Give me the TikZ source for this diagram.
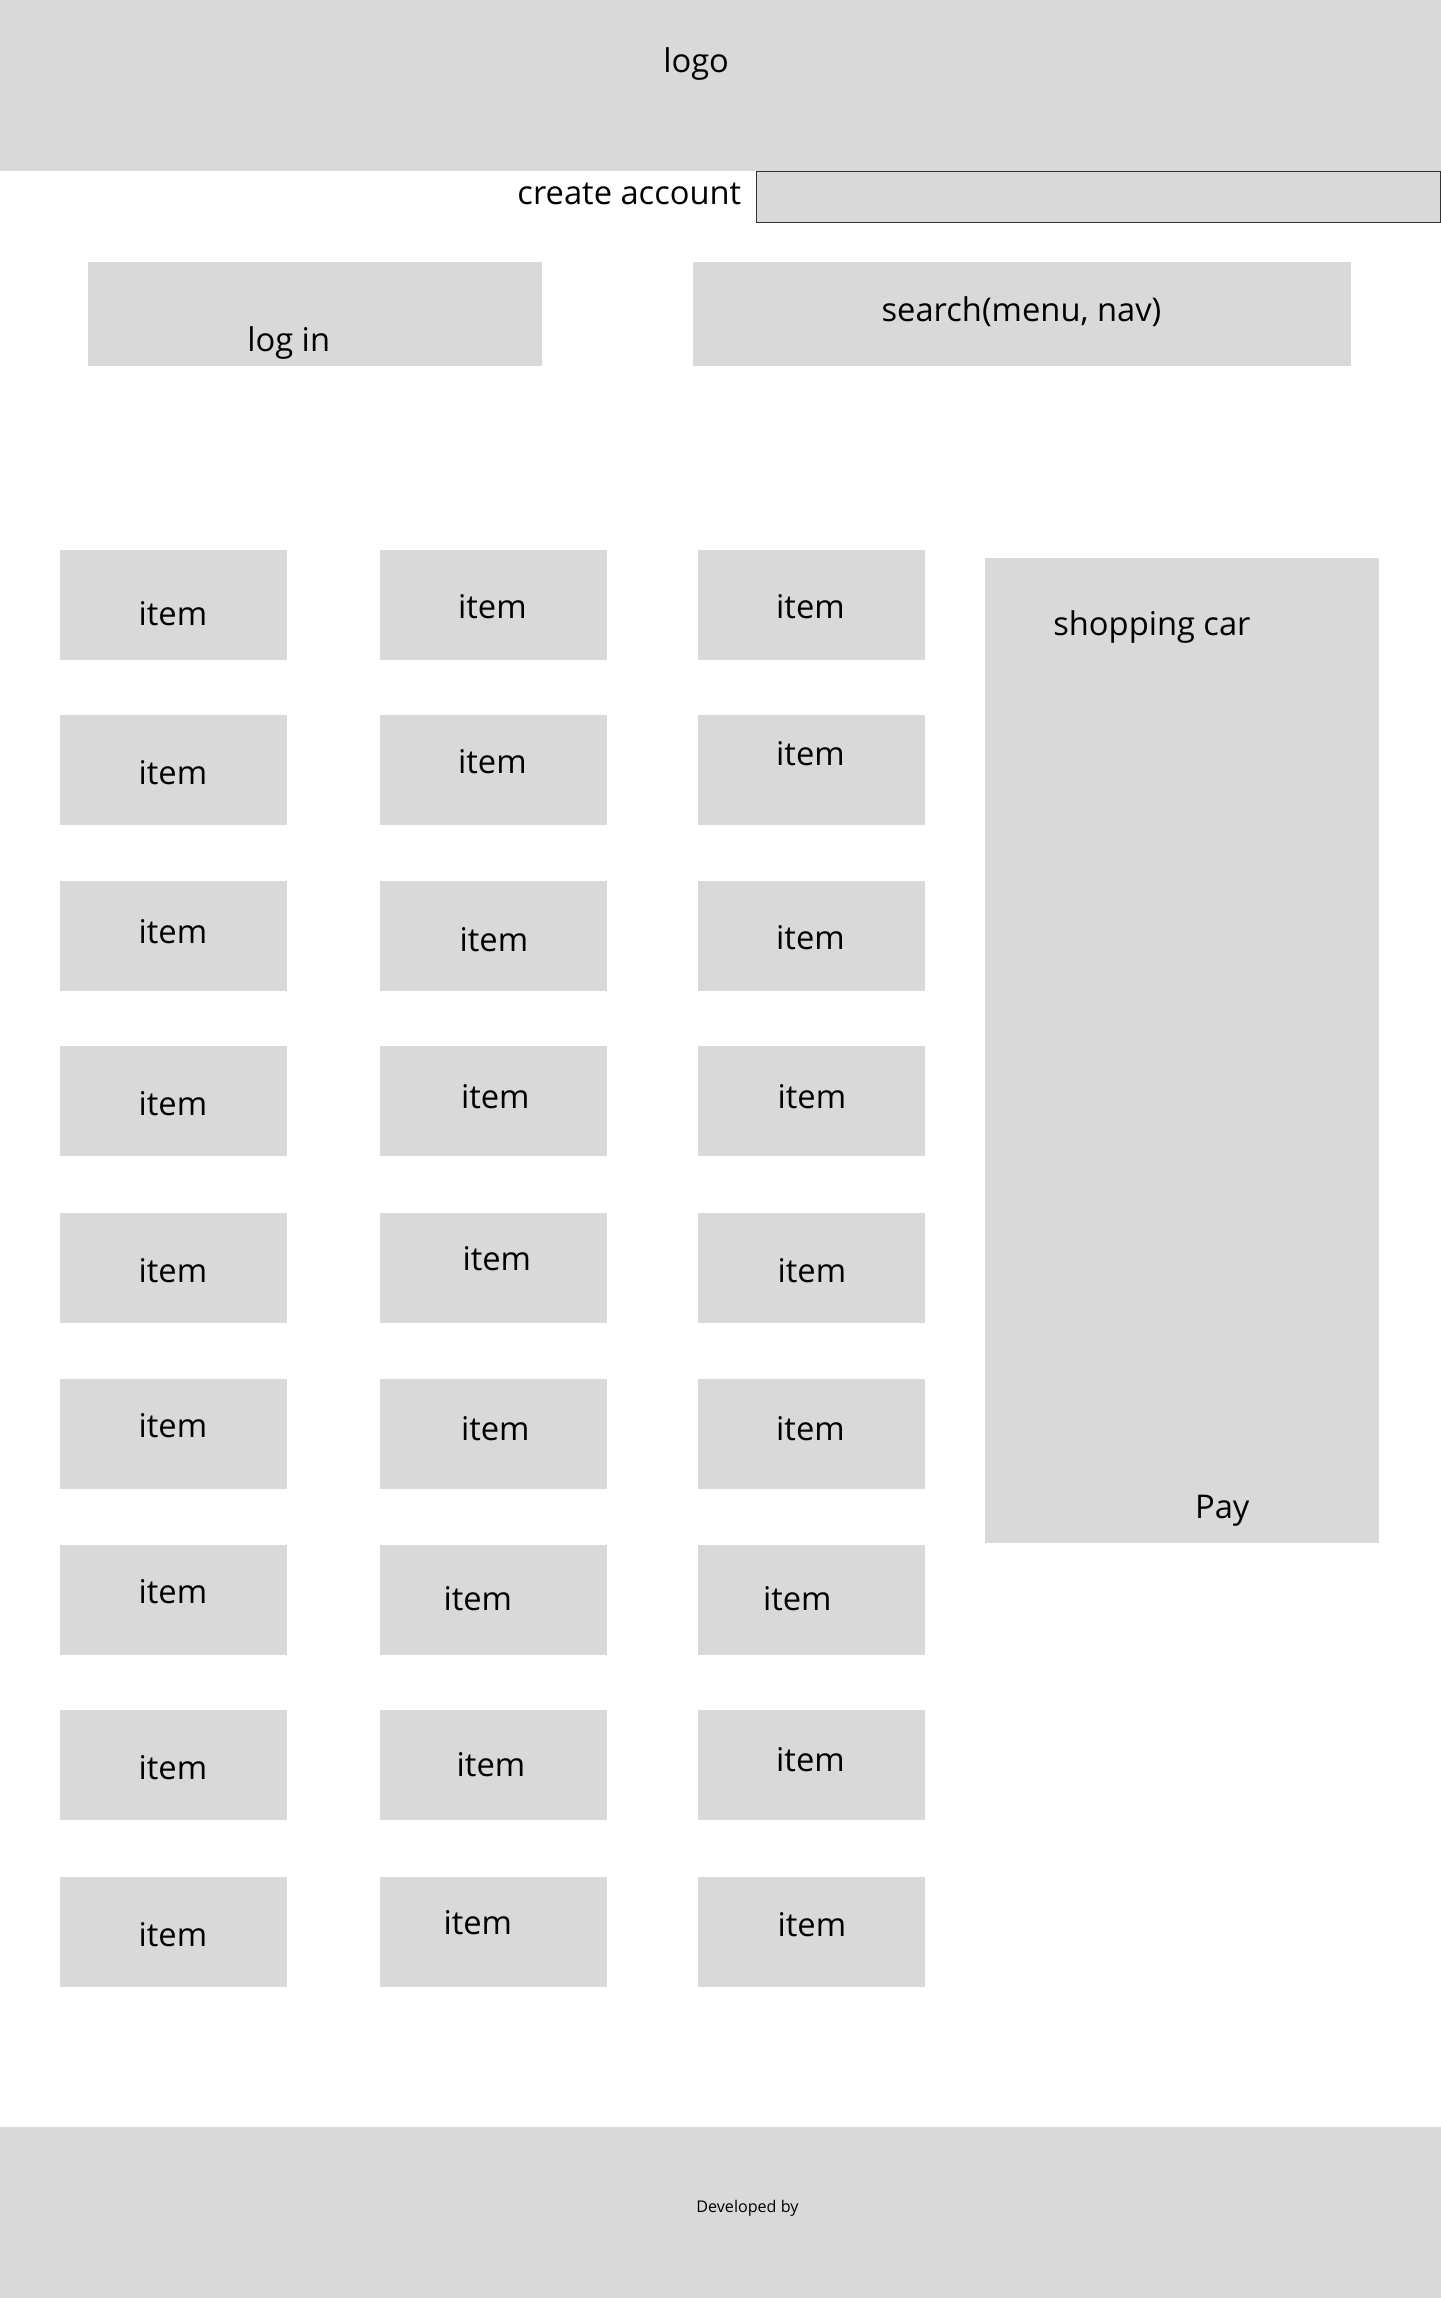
\documentclass[tikz,border=0pt]{standalone}
\usepackage{fontspec}
\setmainfont{Open Sans}
\definecolor{panel}{HTML}{D9D9D9}
\begin{document}
\begin{tikzpicture}[x=1pt, y=-1pt,
    box/.style={fill=panel},
    lbl/.style={font=\fontsize{22.3}{26}\selectfont, inner sep=0pt, yshift=-2pt}]
        \def \itemw{155}
        \def \itemh{75}
        \useasboundingbox (0,0) rectangle (983,1568);

        % Draw the header
        \fill[box] (0,0) rectangle (983,117);
        \node[lbl] (logo) at (475,42) {logo};

        % Draw the account field
        \node[lbl, anchor=east] (create) at (506,130) {create account};
        \draw[box, draw=black!80, line width=0.8pt] (516,117) rectangle (983,152);

        % Draw the log in and search bars
        \fill[box] (60,179) rectangle (370,250);
        \node[lbl] (login) at (197,232) {log in};
        \fill[box] (473,179) rectangle (922,250);
        \node[lbl] (search) at (697,211) {search(menu, nav)};

        % Draw the items (column x, row y, label position)
        \foreach \n/\x/\y/\lx/\ly in {
            a1/41/375/118/417, b1/259/375/336/412, c1/476/375/553/412,
            a2/41/488/118/525, b2/259/488/336/518, c2/476/488/553/512,
            a3/41/601/118/634, b3/259/601/337/639, c3/476/601/553/638,
            a4/41/714/118/751, b4/259/714/338/746, c4/476/714/554/746,
            a5/41/828/118/865, b5/259/828/339/857, c5/476/828/554/865,
            a6/41/941/118/971, b6/259/941/338/973, c6/476/941/553/973,
            a7/41/1054/118/1084, b7/259/1054/326/1089, c7/476/1054/544/1089,
            a8/41/1167/118/1204, b8/259/1167/335/1202, c8/476/1167/553/1199,
            a9/41/1281/118/1318, b9/259/1281/326/1310, c9/476/1281/554/1311} {
            \fill[box] (\x,\y) rectangle ++(\itemw,\itemh);
            \node[lbl] (item-\n) at (\lx,\ly) {item};
        }

        % Draw the shopping cart
        \fill[box] (672,381) rectangle (941,1053);
        \node[lbl] (cart) at (786,426) {shopping car};
        \node[lbl] (pay) at (834,1029) {Pay};

        % Draw the footer
        \fill[box] (0,1451) rectangle (983,1568);
        \node[font=\fontsize{11}{13}\selectfont, inner sep=0pt, yshift=-1pt] (dev) at (510,1506) {Developed by};
    \end{tikzpicture}
\end{document}
